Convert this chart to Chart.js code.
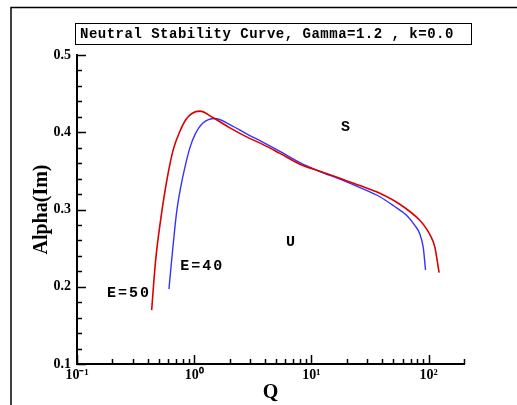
<!DOCTYPE html>
<html>
<head>
<meta charset="utf-8">
<script src="https://cdn.jsdelivr.net/npm/chart.js@4.4.0/dist/chart.umd.min.js"></script>
<style>
  html, body { margin: 0; padding: 0; background: #fff; }
</style>
</head>
<body>
<canvas id="chart" width="517" height="405"></canvas>
<script>
// Neutral stability curves, alpha(Im) against Q
const qE50 = [0.4333, 0.4688, 0.5170, 0.5852, 0.6622, 0.7554, 0.8494, 0.9559, 1.1184, 1.4521, 2.015, 2.797, 3.874, 5.378, 7.963, 11.79, 17.47, 25.86, 38.29, 56.70, 83.97, 96.34, 104.2, 112.7, 122.7];
const alphaE50 = [0.1697, 0.2347, 0.2866, 0.3386, 0.3775, 0.4013, 0.4165, 0.4243, 0.4273, 0.4187, 0.4057, 0.3940, 0.3840, 0.3726, 0.3587, 0.3496, 0.3403, 0.3310, 0.3210, 0.3068, 0.2860, 0.2743, 0.2652, 0.2516, 0.2182];

const qE40 = [0.6086, 0.6418, 0.6846, 0.7119, 0.7626, 0.8330, 0.9190, 1.0139, 1.1931, 1.5012, 2.015, 2.797, 3.874, 5.378, 7.963, 11.79, 17.47, 25.86, 38.29, 50.21, 64.69, 76.11, 83.97, 89.94, 93.91];
const alphaE40 = [0.1970, 0.2347, 0.2775, 0.2996, 0.3269, 0.3548, 0.3801, 0.3970, 0.4122, 0.4178, 0.4100, 0.3979, 0.3870, 0.3753, 0.3606, 0.3492, 0.3392, 0.3284, 0.3165, 0.3048, 0.2925, 0.2795, 0.2684, 0.2503, 0.2217];

const xTickValues = [0.1, 1, 10, 100];
const xTickLabels = ['10\u207B\u00B9', '10\u2070', '10\u00B9', '10\u00B2'];
const yTickValues = [0.1, 0.2, 0.3, 0.4, 0.5];

const titleText = 'Neutral Stability Curve, Gamma=1.2 , k=0.0';

// region / curve labels placed in data coordinates
const notes = [
  { text: 'S', q: 19.5, a: 0.406 },
  { text: 'U', q: 6.63, a: 0.258 },
  { text: 'E=40', q: 1.147, a: 0.226 },
  { text: 'E=50', q: 0.272, a: 0.191 }
];

function toPoints(xs, ys) {
  return xs.map((x, i) => ({ x: x, y: ys[i] }));
}

// minor tick values
const xMinor = [];
[0.1, 1, 10, 100].forEach(d => {
  for (let m = 2; m <= 9; m++) {
    const v = d * m;
    if (v <= 200) xMinor.push(v);
  }
});
const yMinor = [];
for (let i = 0; i <= 20; i++) {
  const v = +(0.1 + i * 0.02).toFixed(2);
  if (Math.round(v * 100) % 10 !== 0) yMinor.push(v);
}

const decorations = {
  id: 'decorations',
  beforeDraw(chart) {
    const ctx = chart.ctx;
    ctx.save();
    ctx.fillStyle = '#fff';
    ctx.fillRect(0, 0, chart.width, chart.height);
    // outer frame (left and top edges)
    ctx.strokeStyle = '#000';
    ctx.lineWidth = 1.5;
    ctx.beginPath();
    ctx.moveTo(11, 405);
    ctx.lineTo(11, 7.5);
    ctx.lineTo(517, 7.5);
    ctx.stroke();
    ctx.restore();
  },
  afterDraw(chart) {
    const ctx = chart.ctx;
    const xs = chart.scales.x;
    const ys = chart.scales.y;
    const area = chart.chartArea;
    ctx.save();
    ctx.strokeStyle = '#000';
    ctx.lineWidth = 1.5;
    ctx.beginPath();
    xTickValues.forEach(v => {
      const px = Math.round(xs.getPixelForValue(v)) + 0.5;
      ctx.moveTo(px, area.bottom);
      ctx.lineTo(px, area.bottom - 9);
    });
    xMinor.forEach(v => {
      const px = Math.round(xs.getPixelForValue(v)) + 0.5;
      ctx.moveTo(px, area.bottom);
      ctx.lineTo(px, area.bottom - 5);
    });
    yTickValues.forEach(v => {
      const py = Math.round(ys.getPixelForValue(v)) + 0.5;
      ctx.moveTo(area.left, py);
      ctx.lineTo(area.left + 9, py);
    });
    yMinor.forEach(v => {
      const py = Math.round(ys.getPixelForValue(v)) + 0.5;
      ctx.moveTo(area.left, py);
      ctx.lineTo(area.left + 5, py);
    });
    ctx.stroke();

    // labels inside the plot
    ctx.fillStyle = '#000';
    ctx.font = 'bold 15px "Liberation Mono", monospace';
    ctx.letterSpacing = '2px';
    ctx.textAlign = 'center';
    ctx.textBaseline = 'middle';
    notes.forEach(n => {
      ctx.fillText(n.text, xs.getPixelForValue(n.q) + 1, ys.getPixelForValue(n.a));
    });

    // title box
    ctx.letterSpacing = '0.5px';
    ctx.font = 'bold 14px "Liberation Mono", monospace';
    ctx.lineWidth = 1;
    ctx.strokeRect(75.5, 23.5, 396, 21);
    ctx.textAlign = 'left';
    ctx.fillText(titleText, 80, 34.5);
    ctx.restore();
  }
};

new Chart(document.getElementById('chart'), {
  type: 'line',
  data: {
    datasets: [
      {
        label: 'E=50',
        data: toPoints(qE50, alphaE50),
        borderColor: '#dd0000',
        borderWidth: 1.6,
        pointRadius: 0,
        cubicInterpolationMode: 'monotone',
        fill: false
      },
      {
        label: 'E=40',
        data: toPoints(qE40, alphaE40),
        borderColor: '#3333ff',
        borderWidth: 1.4,
        pointRadius: 0,
        cubicInterpolationMode: 'monotone',
        fill: false
      }
    ]
  },
  options: {
    responsive: false,
    animation: false,
    layout: { padding: { left: 0, top: 55, right: 53, bottom: 0 } },
    plugins: {
      legend: { display: false },
      tooltip: { enabled: false }
    },
    scales: {
      x: {
        type: 'logarithmic',
        min: 0.1,
        max: 200,
        afterBuildTicks: axis => {
          axis.ticks = xTickValues.map(v => ({ value: v }));
        },
        afterFit: axis => { axis.height = 41; },
        grid: { display: false, drawTicks: false },
        border: { display: true, color: '#000', width: 2 },
        ticks: {
          color: '#000',
          padding: 3,
          maxRotation: 0,
          autoSkip: false,
          font: { family: '"Liberation Serif", serif', size: 14, weight: 'bold' },
          callback: (val) => {
            const i = xTickValues.findIndex(t => Math.abs(t - val) < 1e-9);
            return i >= 0 ? xTickLabels[i] : '';
          }
        },
        title: {
          display: true,
          text: 'Q',
          color: '#000',
          padding: { top: 6, bottom: 0 },
          font: { family: '"Liberation Serif", serif', size: 20, weight: 'bold' }
        }
      },
      y: {
        min: 0.1,
        max: 0.5,
        afterBuildTicks: axis => {
          axis.ticks = yTickValues.map(v => ({ value: v }));
        },
        afterFit: axis => { axis.width = 77; },
        grid: { display: false, drawTicks: false },
        border: { display: true, color: '#000', width: 2 },
        ticks: {
          color: '#000',
          padding: 6,
          font: { family: '"Liberation Serif", serif', size: 14, weight: 'bold' },
          callback: val => val.toFixed(1)
        },
        title: {
          display: true,
          text: 'Alpha(Im)',
          color: '#000',
          padding: { top: 30, bottom: 0 },
          font: { family: '"Liberation Serif", serif', size: 20, weight: 'bold' }
        }
      }
    }
  },
  plugins: [decorations]
});
</script>
</body>
</html>
